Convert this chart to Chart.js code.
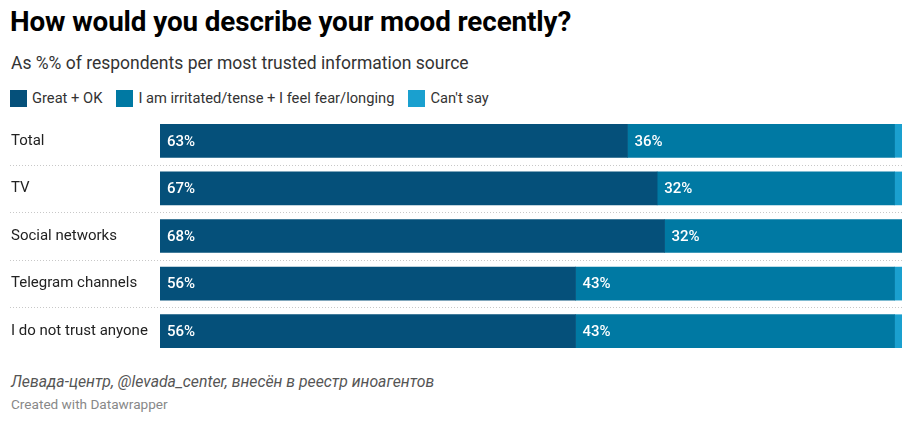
<!DOCTYPE html>
<html>
<head>
<meta charset="utf-8">
<script src="https://cdn.jsdelivr.net/npm/chart.js@4"></script>
<style>
  body { margin: 0; background: #fff; font-family: Roboto, sans-serif; width: 915px; height: 426px; position: relative; overflow: hidden; }
  h1 { position: absolute; left: 10px; top: 5px; margin: 0; font-size: 27.8px; font-weight: 700; color: #000; letter-spacing: -0.1px; }
  .sub { position: absolute; left: 11px; top: 53px; font-size: 17.5px; color: #333; }
  .legend { position: absolute; left: 10px; top: 89px; font-size: 14.7px; color: #333; display: flex; }
  .legend span.item { display: flex; align-items: center; margin-right: 14px; }
  .legend i { display: inline-block; width: 17px; height: 17px; margin-right: 5px; }
  #wrap { position: absolute; left: 0; top: 117px; width: 915px; height: 238px; }
  .src { position: absolute; left: 11px; top: 372px; font-size: 15.8px; font-style: italic; color: #555; }
  .made { position: absolute; left: 11px; top: 396px; font-size: 13.6px; color: #888; }
</style>
</head>
<body>
<h1>How would you describe your mood recently?</h1>
<div class="sub">As %% of respondents per most trusted information source</div>
<div class="legend" id="legend"></div>
<div id="wrap"><canvas id="chart"></canvas></div>
<div class="src">Левада-центр, @levada_center, внесён в реестр иноагентов</div>
<div class="made">Created with Datawrapper</div>
<script>
    const categories = ["Total", "TV", "Social networks", "Telegram channels", "I do not trust anyone"];
    const seriesNames = ["Great + OK", "I am irritated/tense + I feel fear/longing", "Can't say"];
    const greatOk = [63, 67, 68, 56, 56];
    const irritated = [36, 32, 32, 43, 43];
    const cantSay = [1, 1, 0, 1, 1];
    const colors = ["#05507a", "#0079a3", "#1aa0cf"];

    // legend in html
    const legendBox = document.getElementById("legend");
    seriesNames.forEach((name, i) => {
        const s = document.createElement("span");
        s.className = "item";
        s.innerHTML = '<i style="background:' + colors[i] + '"></i>' + name;
        legendBox.appendChild(s);
    });

    // dotted separators between rows
    const separators = {
        id: "separators",
        beforeDatasetsDraw(chart) {
            const c = chart.ctx;
            const y = chart.scales.y;
            c.save();
            c.strokeStyle = "#c8c8c8";
            c.lineWidth = 1;
            c.setLineDash([1, 2]);
            for (let i = 0; i < categories.length - 1; i++) {
                const yy = Math.round((y.getPixelForValue(i) + y.getPixelForValue(i + 1)) / 2) + 0.5;
                c.beginPath();
                c.moveTo(10, yy);
                c.lineTo(chart.chartArea.right, yy);
                c.stroke();
            }
            c.restore();
        }
    };

    // value labels inside bars
    const valueLabels = {
        id: "valueLabels",
        afterDatasetsDraw(chart) {
            const c = chart.ctx;
            c.save();
            c.font = "500 15px Roboto";
            c.fillStyle = "#fff";
            c.textBaseline = "middle";
            chart.data.datasets.forEach((ds, di) => {
                if (di > 1) return;
                chart.getDatasetMeta(di).data.forEach((bar, i) => {
                    const v = ds.data[i];
                    if (v < 5) return;
                    c.fillText(v + "%", bar.base + 7, bar.y + 1);
                });
            });
            c.restore();
        }
    };

    new Chart(document.getElementById("chart"), {
        type: "bar",
        data: {
            labels: categories,
            datasets: [
                { label: seriesNames[0], data: greatOk, backgroundColor: colors[0] },
                { label: seriesNames[1], data: irritated, backgroundColor: colors[1] },
                { label: seriesNames[2], data: cantSay, backgroundColor: colors[2] },
            ],
        },
        options: {
            indexAxis: "y",
            responsive: true,
            maintainAspectRatio: false,
            animation: false,
            barThickness: 33,
            layout: { padding: { left: 11, right: 13, top: 0, bottom: 0 } },
            plugins: {
                legend: { display: false },
                tooltip: { enabled: false },
            },
            scales: {
                x: {
                    stacked: true,
                    min: 0,
                    max: 100,
                    display: false,
                },
                y: {
                    stacked: true,
                    grid: { display: false },
                    border: { display: false },
                    afterFit(scale) {
                        scale.width = 149;
                        scale.paddingTop = 0;
                        scale.paddingBottom = 0;
                    },
                    ticks: {
                        crossAlign: "far",
                        padding: 0,
                        color: "#222",
                        font: { family: "Roboto", size: 15 },
                    },
                },
            },
        },
        plugins: [separators, valueLabels],
    });
</script>
</body>
</html>
